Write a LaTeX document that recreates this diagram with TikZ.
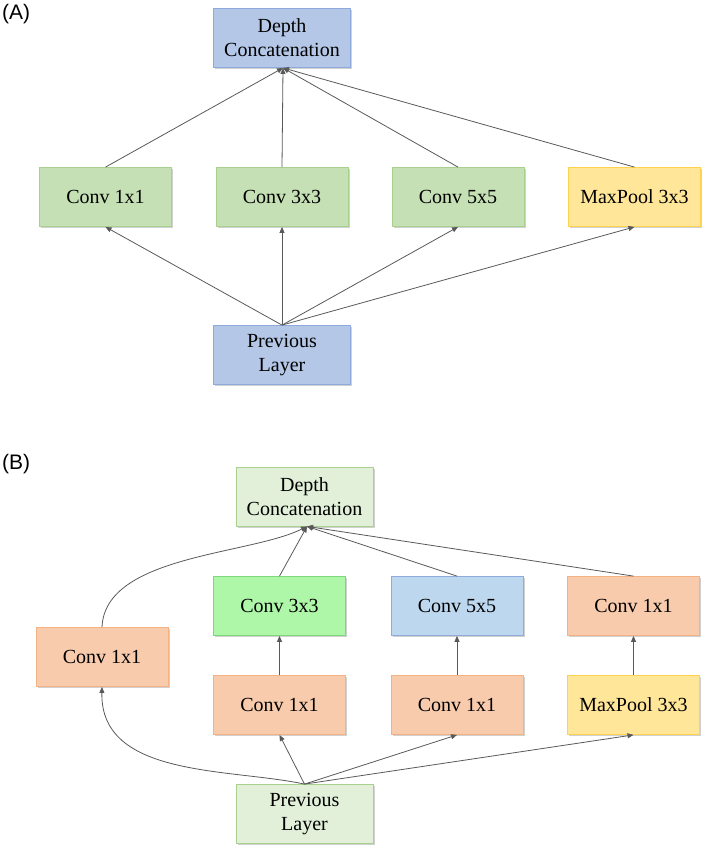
\documentclass[tikz,border=0pt]{standalone}
\usepackage{fontspec}
\setmainfont{Liberation Serif}
\newfontfamily\labfont{Liberation Sans}
\usetikzlibrary{arrows.meta,shadows}
\definecolor{blueF}{HTML}{B4C7E7}\definecolor{blueD}{HTML}{8EA9DB}
\definecolor{greenF}{HTML}{C5E0B4}\definecolor{greenD}{HTML}{A9D18E}
\definecolor{yelF}{HTML}{FFE699}\definecolor{yelD}{HTML}{FFD34F}
\definecolor{lgreenF}{HTML}{E2F0D9}\definecolor{lgreenD}{HTML}{A9D18E}
\definecolor{bgreenF}{HTML}{AEF6A8}\definecolor{bgreenD}{HTML}{7ED77A}
\definecolor{lblueF}{HTML}{BDD7EE}\definecolor{lblueD}{HTML}{8FAADC}
\definecolor{orF}{HTML}{F8CBAD}\definecolor{orD}{HTML}{F4B183}
\definecolor{linegray}{HTML}{595959}
\begin{document}
\begin{tikzpicture}[x=1pt,y=-1pt,
  box/.style={draw, line width=0.8pt, minimum width=132pt, minimum height=59pt,
    inner sep=0pt, align=center, font=\fontsize{20}{24}\selectfont,
    drop shadow={shadow xshift=1.5pt, shadow yshift=-1.5pt, opacity=0.3, fill=black!60}},
  wide/.style={minimum width=137pt},
  bluebox/.style={box, fill=blueF, draw=blueD},
  greenbox/.style={box, fill=greenF, draw=greenD},
  yelbox/.style={box, fill=yelF, draw=yelD},
  lgreenbox/.style={box, fill=lgreenF, draw=lgreenD},
  bgreenbox/.style={box, fill=bgreenF, draw=bgreenD},
  lbluebox/.style={box, fill=lblueF, draw=lblueD},
  orbox/.style={box, fill=orF, draw=orD},
  conn/.style={draw=linegray, line width=0.8pt, -{Triangle[length=6pt,width=5pt]}},
  panel/.style={anchor=north west, inner sep=0pt, font=\labfont\fontsize{21}{25}\selectfont}
]
\path[use as bounding box] (0,0) rectangle (705,849);

% ---------- (A) ----------
\node[panel] (labA) at (2,4) {(A)};
\node[bluebox, wide] (dcA) at (282,38) {Depth\\Concatenation};
\node[greenbox] (c1A) at (105.5,197) {Conv 1x1};
\node[greenbox] (c3A) at (282,197) {Conv 3x3};
\node[greenbox] (c5A) at (458,197) {Conv 5x5};
\node[yelbox] (mpA) at (634.5,197) {MaxPool 3x3};
\node[bluebox, wide] (plA) at (282,355) {Previous\\Layer};

\coordinate (tA) at ([xshift=1pt]dcA.south);
\foreach \n in {c1A,c3A,c5A,mpA}{
  \draw[conn] (\n.north) -- (tA);
  \draw[conn] (plA.north) -- (\n.south);
}

% ---------- (B) ----------
\node[panel] (labB) at (2,454) {(B)};
\node[lgreenbox, wide] (dcB) at (304.5,496.5) {Depth\\Concatenation};
\node[bgreenbox] (c3B) at (279.5,606) {Conv 3x3};
\node[lbluebox] (c5B) at (457,606) {Conv 5x5};
\node[orbox] (c1T) at (633.5,606) {Conv 1x1};
\node[orbox] (c1L) at (102,657) {Conv 1x1};
\node[orbox] (c1M) at (279.5,705) {Conv 1x1};
\node[orbox] (c1R) at (457,705) {Conv 1x1};
\node[yelbox] (mpB) at (633.5,705) {MaxPool 3x3};
\node[lgreenbox, wide] (plB) at (304.5,814) {Previous\\Layer};

\coordinate (tB) at ([xshift=2.5pt]dcB.south);
\foreach \n in {c3B,c5B,c1T}{ \draw[conn] (\n.north) -- (tB); }
\draw[conn] (c1L.north) .. controls (105,555) and (250,555) .. (tB);
\draw[conn] (c1M.north) -- (c3B.south);
\draw[conn] (c1R.north) -- (c5B.south);
\draw[conn] (mpB.north) -- (c1T.south);
\foreach \n in {c1M,c1R,mpB}{ \draw[conn] (plB.north) -- (\n.south); }
\draw[conn] (plB.north) .. controls (230,768) and (100,778) .. (c1L.south);
\end{tikzpicture}
\end{document}
